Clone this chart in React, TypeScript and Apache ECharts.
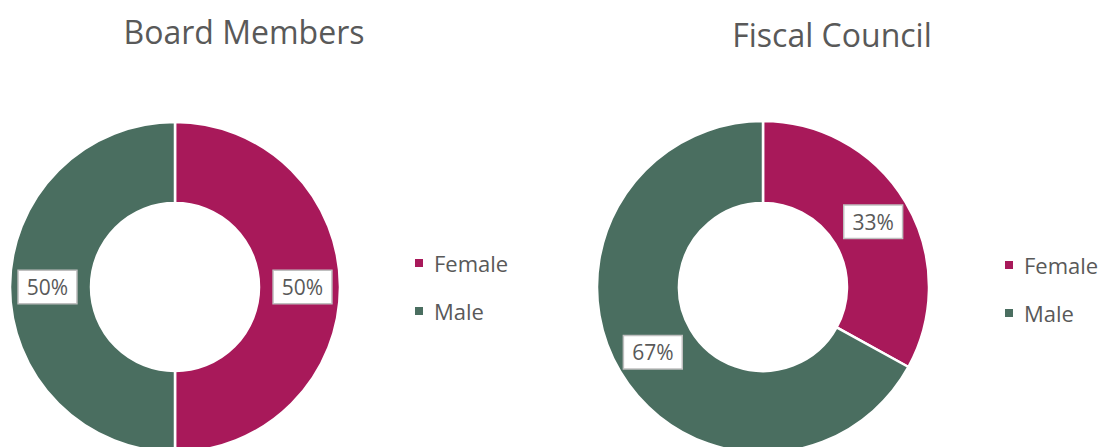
import React, { useEffect, useRef } from "react";
import * as echarts from "echarts";

const categories = ["Female", "Male"];
const boardValues = [50, 50];
const fiscalValues = [33, 67];
const chartTitles = ["Board Members", "Fiscal Council"];
const colors = ["#A8195A", "#4A6E60"];

const FONT = "'Open Sans', 'Noto Sans', sans-serif";
const TEXT = "#595959";

export default function App() {
  const ref = useRef<HTMLDivElement>(null);
  useEffect(() => {
    if (!ref.current) return;
    const chart = echarts.init(ref.current, null, { renderer: "svg" });
    const label = {
      show: true,
      position: "inside",
      formatter: "{c}%",
      fontFamily: FONT,
      fontSize: 21,
      color: TEXT,
      backgroundColor: "#fff",
      borderColor: "#bfbfbf",
      borderWidth: 1.5,
      padding: [6, 8, 5, 8],
    };
    const mk = (vals: number[], center: number[], r: number) => ({
      type: "pie",
      center,
      radius: [84, r],
      startAngle: 90,
      clockwise: true,
      avoidLabelOverlap: false,
      itemStyle: { borderColor: "#fff", borderWidth: 2.5 },
      label,
      labelLine: { show: false },
      emphasis: { disabled: true },
      data: categories.map((c, i) => ({ name: c, value: vals[i], itemStyle: { color: colors[i] } })),
    });
    const legend = (left: number, top: number) => ({
      orient: "vertical",
      left,
      top,
      icon: "rect",
      itemWidth: 10,
      itemHeight: 10,
      itemGap: 26,
      data: categories,
      textStyle: { fontFamily: FONT, fontSize: 22, color: TEXT, padding: [0, 0, 0, 5] },
    });
    chart.setOption({
      animation: false,
      color: colors,
      legend: [legend(408, 247), legend(998, 249)],
      graphic: [
        { type: "text", x: 244, y: 31, style: { text: chartTitles[0], fill: TEXT, font: `32px ${FONT}`, textAlign: "center", textVerticalAlign: "middle" } },
        { type: "text", x: 832, y: 34, style: { text: chartTitles[1], fill: TEXT, font: `32px ${FONT}`, textAlign: "center", textVerticalAlign: "middle" } },
      ],
      series: [mk(boardValues, [175, 287], 165), mk(fiscalValues, [763, 287], 166)],
    });
    return () => chart.dispose();
  }, []);
  return <div ref={ref} style={{ position: "fixed", left: 0, top: 0, width: 1104, height: 447, background: "#fff" }} />;
}
